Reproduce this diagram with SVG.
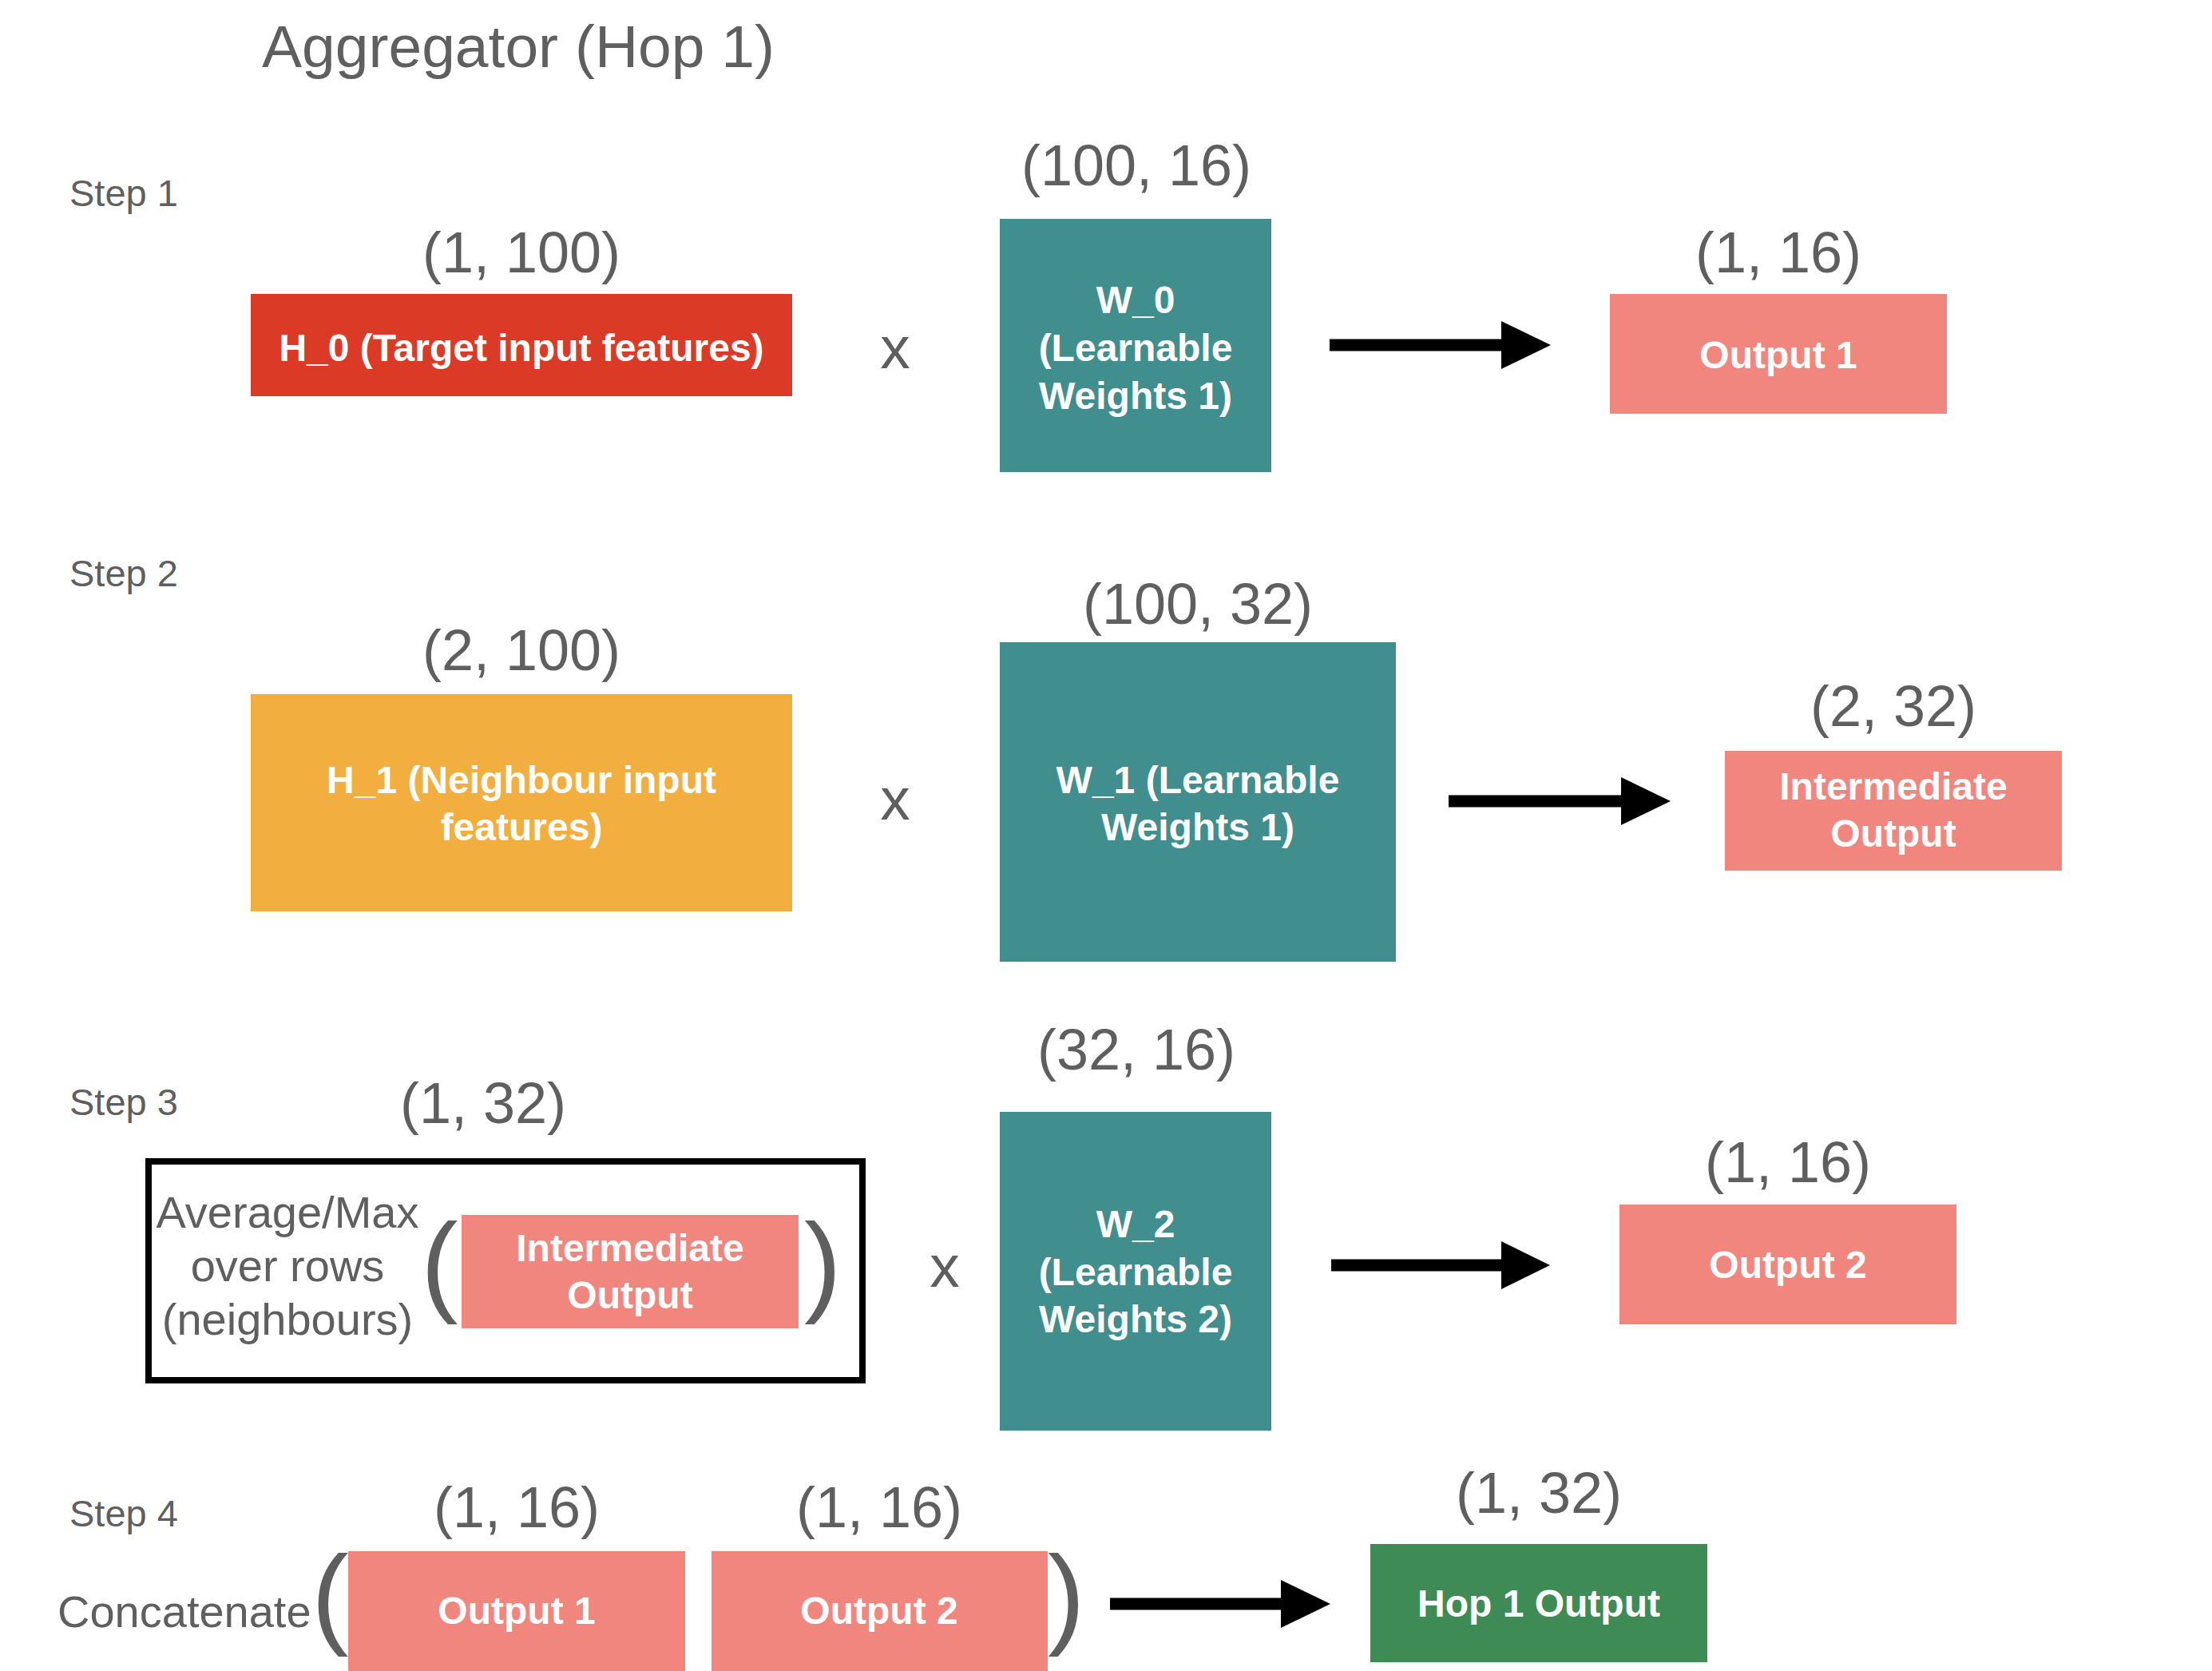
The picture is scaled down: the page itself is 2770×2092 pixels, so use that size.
<svg xmlns="http://www.w3.org/2000/svg" width="2770" height="2092" viewBox="0 0 2770 2092">
<style>
  .gray { fill: #5f5f5f; font-family: "Liberation Sans", Arial, Helvetica, sans-serif; }
  .title { font-size: 75px; }
  .step { font-size: 47px; }
  .dim { font-size: 72px; text-anchor: middle; }
  .op { font-size: 75px; text-anchor: middle; }
  .lbl { font-size: 56px; text-anchor: middle; }
  .paren { font-size: 140px; }
  .wt { fill: #ffffff; font-family: "Liberation Sans", Arial, Helvetica, sans-serif; font-weight: bold; font-size: 48px; text-anchor: middle; }
  .red { fill: #DB3A27; }
  .orange { fill: #F2AF40; }
  .teal { fill: #408E8E; }
  .salmon { fill: #F0867E; }
  .green { fill: #3F8B56; }
  .conn line { stroke: #000000; stroke-width: 15; }
  .conn polygon { fill: #000000; }
</style>
<rect x="0" y="0" width="2770" height="2092" fill="#ffffff"/>

<text class="gray title" x="328" y="84">Aggregator (Hop 1)</text>

<g id="labels">
  <text class="gray step" x="87" y="258">Step 1</text>
  <text class="gray step" x="87" y="734">Step 2</text>
  <text class="gray step" x="87" y="1396">Step 3</text>
  <text class="gray step" x="87" y="1911">Step 4</text>

  <text class="gray dim" x="653" y="341">(1, 100)</text>
  <text class="gray dim" x="1423" y="232">(100, 16)</text>
  <text class="gray dim" x="2227" y="341">(1, 16)</text>
  <text class="gray dim" x="653" y="839">(2, 100)</text>
  <text class="gray dim" x="1500" y="781">(100, 32)</text>
  <text class="gray dim" x="2371" y="909">(2, 32)</text>
  <text class="gray dim" x="605" y="1406">(1, 32)</text>
  <text class="gray dim" x="1423" y="1339">(32, 16)</text>
  <text class="gray dim" x="2239" y="1480">(1, 16)</text>
  <text class="gray dim" x="647" y="1912">(1, 16)</text>
  <text class="gray dim" x="1101" y="1912">(1, 16)</text>
  <text class="gray dim" x="1927" y="1894">(1, 32)</text>

  <text class="gray op" x="1121" y="461">x</text>
  <text class="gray op" x="1121" y="1026">x</text>
  <text class="gray op" x="1183" y="1611">x</text>
</g>

<g id="h0">
  <rect class="red" x="314" y="368" width="678" height="128"/>
  <text class="wt" x="653" y="452">H_0 (Target input features)</text>
</g>
<g id="w0">
  <rect class="teal" x="1252" y="274" width="340" height="317"/>
  <text class="wt" x="1422" y="392">W_0</text>
  <text class="wt" x="1422" y="452">(Learnable</text>
  <text class="wt" x="1422" y="512">Weights 1)</text>
</g>
<g id="output1">
  <rect class="salmon" x="2016" y="368" width="422" height="150"/>
  <text class="wt" x="2227" y="461">Output 1</text>
</g>

<g id="h1">
  <rect class="orange" x="314" y="869" width="678" height="272"/>
  <text class="wt" x="653" y="993">H_1 (Neighbour input</text>
  <text class="wt" x="653" y="1052">features)</text>
</g>
<g id="w1">
  <rect class="teal" x="1252" y="804" width="496" height="400"/>
  <text class="wt" x="1500" y="993">W_1 (Learnable</text>
  <text class="wt" x="1500" y="1052">Weights 1)</text>
</g>
<g id="intermediate">
  <rect class="salmon" x="2160" y="940" width="422" height="150"/>
  <text class="wt" x="2371" y="1001">Intermediate</text>
  <text class="wt" x="2371" y="1060">Output</text>
</g>

<g id="aggregate">
  <rect x="186" y="1454" width="894" height="274" fill="none" stroke="#000000" stroke-width="8"/>
  <text class="gray lbl" x="360" y="1537">Average/Max</text>
  <text class="gray lbl" x="360" y="1604">over rows</text>
  <text class="gray lbl" x="360" y="1671">(neighbours)</text>
  <text class="gray paren" x="527" y="1629">(</text>
  <rect class="salmon" x="578" y="1521" width="422" height="142"/>
  <text class="wt" x="789" y="1579">Intermediate</text>
  <text class="wt" x="789" y="1638">Output</text>
  <text class="gray paren" x="1007" y="1629">)</text>
</g>
<g id="w2">
  <rect class="teal" x="1252" y="1392" width="340" height="399"/>
  <text class="wt" x="1422" y="1549">W_2</text>
  <text class="wt" x="1422" y="1609">(Learnable</text>
  <text class="wt" x="1422" y="1668">Weights 2)</text>
</g>
<g id="output2">
  <rect class="salmon" x="2028" y="1508" width="422" height="150"/>
  <text class="wt" x="2239" y="1600">Output 2</text>
</g>

<g id="concat">
  <text class="gray lbl" x="72" y="2037" style="text-anchor:start">Concatenate</text>
  <text class="gray paren" x="390" y="2045">(</text>
  <rect class="salmon" x="436" y="1942" width="422" height="150"/>
  <text class="wt" x="647" y="2033">Output 1</text>
  <rect class="salmon" x="891" y="1942" width="421" height="150"/>
  <text class="wt" x="1101" y="2033">Output 2</text>
  <text class="gray paren" x="1312" y="2045">)</text>
</g>
<g id="hop1">
  <rect class="green" x="1716" y="1933" width="422" height="148"/>
  <text class="wt" x="1927" y="2024">Hop 1 Output</text>
</g>

<g id="connectors" class="conn">
  <line x1="1665" y1="432" x2="1882" y2="432"/>
  <polygon points="1880,402 1942,432 1880,462"/>
  <line x1="1814" y1="1003" x2="2032" y2="1003"/>
  <polygon points="2030,973 2092,1003 2030,1033"/>
  <line x1="1667" y1="1584" x2="1882" y2="1584"/>
  <polygon points="1880,1554 1941,1584 1880,1614"/>
  <line x1="1390" y1="2008" x2="1606" y2="2008"/>
  <polygon points="1604,1978 1666,2008 1604,2038"/>
</g>
</svg>
